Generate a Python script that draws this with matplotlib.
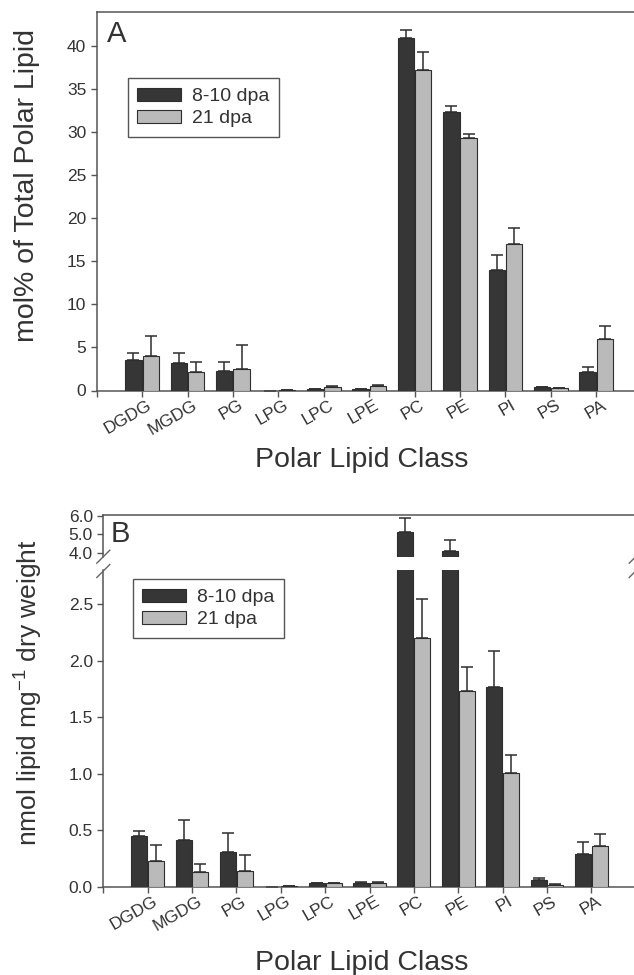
# polar lipid composition, two panels (A: mol%, B: nmol per mg dry weight)
import numpy as np
import matplotlib.pyplot as plt
from matplotlib.lines import Line2D
from matplotlib.transforms import ScaledTranslation

plt.rcParams['font.family'] = ['Liberation Sans', 'DejaVu Sans']
plt.rcParams['mathtext.fontset'] = 'custom'
plt.rcParams['mathtext.rm'] = 'Liberation Sans'
plt.rcParams['mathtext.default'] = 'regular'
plt.rcParams['text.color'] = '#333333'

################################## data #####################################
lipids = ['DGDG', 'MGDG', 'PG', 'LPG', 'LPC', 'LPE', 'PC', 'PE', 'PI', 'PS', 'PA']
groups = ['8-10 dpa', '21 dpa']

# panel A, mol% of total polar lipid (mean, upper error)
mol_early = [3.6, 3.25, 2.3, 0.0, 0.15, 0.15, 41.0, 32.4, 13.95, 0.4, 2.15]
mol_early_sd = [0.7, 1.05, 1.05, 0.0, 0.05, 0.05, 0.9, 0.6, 1.75, 0.05, 0.6]
mol_late = [3.95, 2.2, 2.5, 0.08, 0.4, 0.47, 37.2, 29.3, 17.05, 0.25, 5.95]
mol_late_sd = [2.35, 1.1, 2.8, 0.0, 0.15, 0.15, 2.1, 0.5, 1.85, 0.05, 1.5]

# panel B, nmol lipid per mg dry weight
amt_early = [0.45, 0.416, 0.304, 0.0, 0.03, 0.035, 5.14, 4.1, 1.767, 0.059, 0.292]
amt_early_sd = [0.04, 0.17, 0.17, 0.0, 0.005, 0.005, 0.76, 0.6, 0.32, 0.021, 0.103]
amt_late = [0.23, 0.127, 0.142, 0.005, 0.03, 0.03, 2.20, 1.73, 1.009, 0.015, 0.357]
amt_late_sd = [0.139, 0.073, 0.138, 0.0, 0.005, 0.01, 0.35, 0.217, 0.153, 0.005, 0.112]
#############################################################################

W, H = 634, 975
DARK = '#363636'
LIGHT = '#bababa'
EDGE = '#2e2e2e'
AXC = '#555555'
BAR_W = 0.36
OFF = 0.19
TICK_FS = 12.5


def px_rect(left, top, right, bottom):  # pixel box -> figure fraction
    return [left / W, 1 - bottom / H, (right - left) / W, (bottom - top) / H]


def draw_bars(ax, vals):
    early, early_sd, late, late_sd = vals
    x = np.arange(len(lipids))
    n = len(lipids)
    b1 = ax.bar(x - OFF, early, BAR_W, color=DARK, edgecolor=EDGE, linewidth=0.8, zorder=3)
    b2 = ax.bar(x + OFF, late, BAR_W, color=LIGHT, edgecolor=EDGE, linewidth=0.8, zorder=3)
    ax.errorbar(x - OFF, early, yerr=[np.zeros(n), early_sd], fmt='none', ecolor=EDGE,
                elinewidth=1.1, capsize=4.2, capthick=1.1, zorder=2)
    ax.errorbar(x + OFF, late, yerr=[np.zeros(n), late_sd], fmt='none', ecolor=EDGE,
                elinewidth=1.1, capsize=4.2, capthick=1.1, zorder=2)
    return b1, b2


def style(ax, xlabels=True):
    for s in ['left', 'bottom', 'top']:
        ax.spines[s].set_color(AXC)
        ax.spines[s].set_linewidth(1.1)
    ax.spines['right'].set_visible(False)
    ax.tick_params(direction='out', length=4.5, width=1, color=AXC,
                   labelsize=TICK_FS, labelcolor='#333333', pad=3)
    ax.set_xlim(-1, 11)
    ax.set_xticks(np.arange(-1, 11))
    if xlabels:
        ax.set_xticklabels([''] + lipids)
        ax.tick_params(axis='x', pad=2)
        shift = ScaledTranslation(0.05, 0.02, fig.dpi_scale_trans)
        for lab in ax.get_xticklabels():
            lab.set_rotation(30)
            lab.set_ha('right')
            lab.set_va('top')
            lab.set_rotation_mode('anchor')
            lab.set_transform(lab.get_transform() + shift)
    else:
        ax.tick_params(axis='x', bottom=False, labelbottom=False)


def legend(ax, handles, x, y):
    leg = ax.legend(handles, groups, loc='upper left', bbox_to_anchor=(x, y),
                    borderaxespad=0, fontsize=14, fancybox=False, framealpha=1,
                    edgecolor=AXC, handlelength=2.25, handleheight=0.65,
                    handletextpad=0.55, labelspacing=0.22, borderpad=0.5)
    leg.get_frame().set_linewidth(1)


fig = plt.figure(figsize=(W / 100, H / 100), dpi=100)

# ---------------- panel A ----------------
axA = fig.add_axes(px_rect(96.7, 11.7, 641.7, 390.5))
hA = draw_bars(axA, (mol_early, mol_early_sd, mol_late, mol_late_sd))
style(axA)
axA.set_ylim(0, 44)
axA.set_yticks(np.arange(0, 41, 5))
legend(axA, hA, 0.057, 0.824)
axA.text(0.019, 0.92, 'A', transform=axA.transAxes, fontsize=21, va='baseline', ha='left')
fig.text(27 / W, 1 - 185 / H, 'mol% of Total Polar Lipid', rotation=90,
         ha='center', va='center', fontsize=20.5)
fig.text(362 / W, 1 - 460 / H, 'Polar Lipid Class', ha='center', va='center', fontsize=20.5)

# ---------------- panel B (broken y axis) ----------------
axBt = fig.add_axes(px_rect(103.3, 514.7, 635.7, 557.0))
axB = fig.add_axes(px_rect(103.3, 570.3, 635.7, 886.7))
amt_vals = (amt_early, amt_early_sd, amt_late, amt_late_sd)
draw_bars(axBt, amt_vals)
hB = draw_bars(axB, amt_vals)
style(axBt, xlabels=False)
style(axB)
axBt.spines['bottom'].set_visible(False)
axB.spines['top'].set_visible(False)
axBt.set_ylim(3.77, 6.07)
axBt.set_yticks([4, 5, 6])
axBt.set_yticklabels(['4.0', '5.0', '6.0'])
axB.set_ylim(0, 2.8)
axB.set_yticks(np.arange(0, 2.6, 0.5))
axB.set_yticklabels(['%.1f' % v for v in np.arange(0, 2.6, 0.5)])
legend(axB, hB, 0.055, 0.9715)
axBt.text(0.014, 0.362, 'B', transform=axBt.transAxes, fontsize=21, va='baseline', ha='left')

# break marks on both sides
for xc in [103.3, 635.7]:
    for yc in [556.7, 571.0]:
        fig.add_artist(Line2D([(xc - 6.5) / W, (xc + 6.5) / W],
                              [1 - (yc + 6.5) / H, 1 - (yc - 6.5) / H],
                              color='#666666', linewidth=1))

fig.text(29 / W, 1 - 693 / H, 'nmol lipid mg$^{-1}$ dry weight', rotation=90,
         ha='center', va='center', fontsize=19)
fig.text(362 / W, 1 - 963 / H, 'Polar Lipid Class', ha='center', va='center', fontsize=20.5)

plt.savefig('out.png', dpi=100)
